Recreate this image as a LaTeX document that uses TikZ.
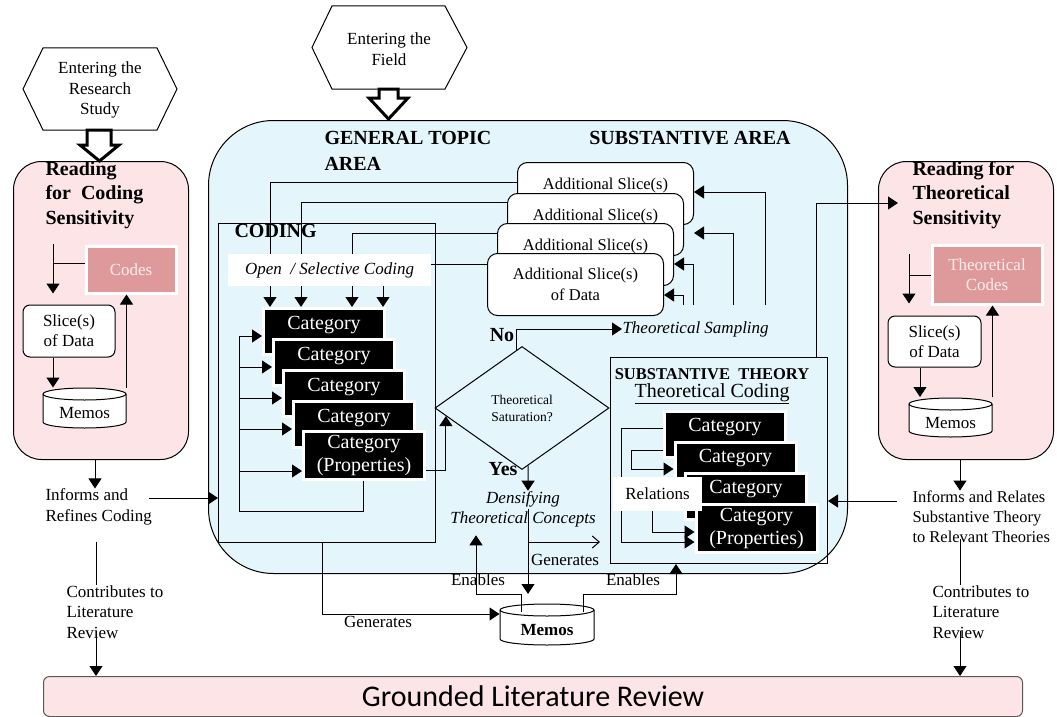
\documentclass[tikz,border=0pt]{standalone}
\usepackage{fontspec}
\setmainfont{Liberation Serif}
\newfontfamily\carlito{Carlito}
\usetikzlibrary{arrows.meta,shapes.geometric,calc}

\definecolor{areablue}{RGB}{228,245,252}
\definecolor{panelpink}{RGB}{253,228,230}
\definecolor{codefill}{RGB}{222,154,155}
\definecolor{codetext}{RGB}{251,236,236}

\newcommand\fsz[2]{\fontsize{#1}{#2}\selectfont}
% database drum between (x1,y1) and (x2,y2)
\newcommand\drum[4]{%
  \pgfmathsetmacro\drumrx{(#3-#1)/2}%
  \filldraw[fill=white] (#1,{#2+6}) -- (#1,{#4-6})
    arc[start angle=180,end angle=360,x radius=\drumrx pt,y radius=6pt]
    -- (#3,{#2+6})
    arc[start angle=0,end angle=180,x radius=\drumrx pt,y radius=6pt] -- cycle;
  \draw (#1,{#2+6}) arc[start angle=180,end angle=360,x radius=\drumrx pt,y radius=6pt];
}

\begin{document}
\begin{tikzpicture}[x=1pt,y=-1pt,line width=1pt,
  arr/.style={-{Triangle[length=10pt,width=13pt]}},
  openarr/.style={-{Straight Barb[length=7pt,width=12pt]}},
  plain/.style={inner sep=0, font=\fsz{17}{20.5}, align=center},
  lefttext/.style={plain, align=left, anchor=west},
  hd/.style={inner sep=0, font=\bfseries\fsz{20}{24.5}, align=left},
  panel/.style={draw, fill=panelpink, rounded corners=28pt, anchor=north west, inner sep=0},
  frame/.style={draw, anchor=north west, inner sep=0},
  codebox/.style={fill=codefill, draw=white, line width=3pt, text=codetext, inner sep=0, align=center, font=\fsz{17}{20}},
  databox/.style={draw, fill=white, rounded corners=7pt, inner sep=0, align=center, font=\fsz{17}{20}},
  slice/.style={draw, fill=white, rounded corners=10pt, minimum width=176pt, minimum height=62pt, inner sep=0, anchor=north west, font=\fsz{16.5}{21}, align=center},
  slicetop/.style={slice, text height=26.5pt, text depth=35.5pt},
  cat/.style={fill=black, draw=white, line width=3pt, text=white, minimum width=121pt, minimum height=46pt, inner sep=0, anchor=north west, font=\fsz{20}{23}, align=center},
  cattop/.style={cat, text height=20.5pt, text depth=25.5pt},
  catst/.style={cat, text height=19.5pt, text depth=26.5pt},
  drumbox/.style={minimum width=#1, minimum height=40pt, inner sep=0},
  blockarrow/.style={line width=3pt, fill=white, line join=miter}
]
\useasboundingbox (0,0) rectangle (1057,717);

% ---------- large areas ----------
\node[draw, fill=areablue, rounded corners=65pt, minimum width=639pt, minimum height=453pt, anchor=north west, inner sep=0] (area) at (208,120) {};
\node[panel, minimum width=175pt, minimum height=298pt] (lp) at (13,161) {};
\node[panel, minimum width=175pt, minimum height=298pt] (rp) at (878,161) {};
\node[draw=black!65, fill=panelpink, rounded corners=6pt, minimum width=979pt, minimum height=40pt, anchor=north west, inner sep=0, font=\carlito\fsz{30}{34}] (glr) at (43,676) {Grounded Literature Review};

% ---------- entry points ----------
\draw[fill=white] (23,89) -- (43,48) -- (157,48) -- (177,89) -- (157,130) -- (43,130) -- cycle;
\node[plain] (hexa) at (100,90) {Entering the\\Research\\Study};
\draw[blockarrow] (87,130) -- (111,130) -- (111,145) -- (119,145) -- (99.5,161) -- (80,145) -- (87,145) -- cycle;

\draw[fill=white] (312,47.5) -- (332,6) -- (445,6) -- (467,47.5) -- (445,89) -- (332,89) -- cycle;
\node[plain] (hexb) at (389,49) {Entering the\\Field};
\draw[blockarrow] (379,89) -- (398,89) -- (398,98) -- (408,98) -- (388.5,119) -- (369,98) -- (379,98) -- cycle;

% ---------- reading for coding sensitivity ----------
\node[hd, anchor=west] (lpt) at (45,195) {Reading\\for~ Coding\\Sensitivity};
\node[codebox, minimum width=90pt, minimum height=47pt] (codes) at (131,269.5) {Codes};
\node[databox, minimum width=92pt, minimum height=52pt] (sl1) at (69,331) {Slice(s)\\of Data};
\drum{43}{388}{126}{428}
\node[drumbox=83pt] (mem1) at (84.5,408) {};
\node[plain] (mem1t) at (84.5,413) {Memos};
\coordinate (lpin) at (53,244);
\draw[arr] (lpin) -- ([yshift=11pt]sl1.north -| lpin);
\draw (codes.west |- 0,263) -- (lpin |- 0,263);
\draw[arr] (sl1.south -| lpin) -- (mem1.north -| lpin);
\draw[arr] (mem1.north east) -- (codes.south -| mem1.north east);

\node[lefttext] (inf1) at (45,507) {Informs and\\Refines Coding};
\node[lefttext] (con1) at (66,612) {Contributes to\\Literature\\Review};
\draw[arr] (lp.south -| 95,0) -- (inf1.north -| 95,0);
\draw ([yshift=-16pt]inf1.south -| 96,0) -- (con1.north -| 96,0);
\draw[arr] ([yshift=8pt]con1.south -| 96,0) -- (glr.north -| 96,0);

% ---------- general topic area ----------
\node[hd, anchor=west, font=\bfseries\fsz{20}{26}] (gta) at (324,151) {GENERAL TOPIC\\AREA};
\node[hd] (sat) at (690,138) {SUBSTANTIVE AREA};

\node[frame, minimum width=217pt, minimum height=319pt] (coding) at (218,223) {};
\node[hd, anchor=west] (codingt) at (234,231) {CODING};
\draw[arr] ([xshift=-3pt]inf1.east |- 0,498) -- (coding.west |- 0,498);

% additional slices of data
\node[slicetop] (s1) at (517,162) {Additional Slice(s)};
\node[slicetop] (s2) at (507,193) {Additional Slice(s)};
\node[slicetop] (s3) at (497,223) {Additional Slice(s)};
\node[slice] (s4) at (487,253) {Additional Slice(s)\\of Data};

% categories of open / selective coding
\node[cattop] (c1) at (262,307) {Category};
\node[cattop] (c2) at (272,338) {Category};
\node[cattop] (c3) at (282,369) {Category};
\node[cattop] (c4) at (292,400) {Category};
\node[cat, minimum height=48pt] (c5) at (302,430) {Category\\(Properties)};

\draw[arr] (s1.west |- 0,182) -| (c1.north -| 270,0);
\draw[arr] (s2.west |- 0,202) -| (c1.north -| 301,0);
\draw[arr] (s3.west |- 0,233) -| (c1.north -| 352,0);
\draw[arr] (s4.west |- 0,264) -| (c1.north -| 383,0);
\node[fill=white, minimum width=203pt, minimum height=32pt, inner sep=0, font=\itshape\fsz{17}{20}] (osc) at (329.5,270) {Open\ \ / Selective Coding};

\draw[arr] (c5.south -| 363,0) |- (239,511) |- (c1.west |- 0,336);
\draw[arr] (239,367) -- (c2.west |- 0,367);
\draw[arr] (239,398) -- (c3.west |- 0,398);
\draw[arr] (239,429) -- (c4.west |- 0,429);
\draw[arr] (239,471) -- (c5.west |- 0,471);

% saturation decision
\node[diamond, draw, minimum width=174pt, minimum height=123pt, aspect=1.41, inner sep=0, font=\fsz{13.5}{17}, align=center] (dia) at (522,408) {Theoretical\\Saturation?};
\draw[arr] (c5.east |- 0,470) -| ($(dia.west)!0.13!(dia.south)$);

\node[hd] (no) at (502,335) {No};
\node[plain, anchor=west, font=\itshape\fsz{17}{20}] (ts) at (622,329) {Theoretical Sampling};
\draw[arr] ($(dia.north)!0.06!(dia.west)$) |- (ts.west);

\draw[arr] ([yshift=16pt]ts.north -| 765,0) |- (s1.east |- 0,192);
\draw[arr] ([yshift=16pt]ts.north -| 733,0) |- ([xshift=10pt]s2.east |- 0,233);
\draw[arr] ([yshift=16pt]ts.north -| 693,0) |- (s3.east |- 0,264);
\draw[arr] ([yshift=16pt]ts.north -| 683,0) |- (s4.east |- 0,295);

\node[hd] (yes) at (503,469) {Yes};
\node[plain, font=\itshape\fsz{17}{20}] (dens) at (523,509) {Densifying\\Theoretical Concepts};
\draw[arr] ($(dia.south)!0.07!(dia.east)$) -- (dens.north -| 528,0);

% ---------- substantive theory ----------
\node[frame, minimum width=217pt, minimum height=206pt] (st) at (610,357) {};
\node[inner sep=0, font=\bfseries\fsz{16.5}{20}] (stt) at (712,374) {SUBSTANTIVE~~THEORY};
\node[inner sep=0, font=\fsz{20}{24}] (tc) at (712,394) {\underline{Theoretical Coding}};

\node[catst] (d1) at (663,410) {Category};
\node[catst] (d2) at (673.5,441) {Category};
\node[catst] (d3) at (684,472) {Category};
% relations run into the last category, which sits 10.5pt right of d3
\draw[arr] (d1.west |- 0,428) -| (621,542) -- ([xshift=10.5pt]d3.west |- 0,542);
\draw[arr] (d1.west |- 0,450) -| (631,469) -- (d2.west |- 0,469);
\draw[arr] (d3.west |- 0,495) -| (652,532) -- ([xshift=10.5pt]d3.west |- 0,532);
\node[cat, minimum height=48pt] (d4) at (694.5,503) {Category\\(Properties)};
\node[fill=white, minimum width=89pt, minimum height=34pt, inner sep=0, font=\fsz{17}{20}] (rel) at (657.5,494) {Relations};

% ---------- memos ----------
\drum{500}{604}{594}{645}
\node[drumbox=94pt] (mem) at (547,624.5) {};
\node[plain, font=\bfseries\fsz{17}{20}] (memt) at (547,630) {Memos};

\draw[arr] (dens.center -| 528,0) -- ([yshift=10pt]mem.north -| 528,0);
\draw[openarr] (528,542) -- ([xshift=-10pt]st.west |- 0,542);
\node[plain] (gen2) at (565,560) {Generates};

\draw[arr] ([yshift=-8pt]mem.north -| 521,0) |- (476,594) -- ([yshift=-8pt]dens.south -| 476,0);
\node[plain] (en1) at (478,580) {Enables};
\draw[arr] ([yshift=-8pt]mem.north -| 583,0) |- (676,594) -- (st.south -| 676,0);
\node[plain] (en2) at (633,580) {Enables};

\draw[arr] (coding.south -| 322,0) |- (mem.west |- 0,614);
\node[plain] (gen1) at (378,622) {Generates};

% ---------- reading for theoretical sensitivity ----------
\node[hd, anchor=west] (rpt) at (912,195) {Reading for\\Theoretical\\Sensitivity};
\node[codebox, minimum width=110pt, minimum height=59pt] (tcodes) at (987,274.5) {Theoretical\\Codes};
\node[databox, minimum width=93pt, minimum height=51pt] (sl2) at (934.5,341.5) {Slice(s)\\of Data};
\drum{909}{398}{992}{437}
\node[drumbox=83pt] (mem2) at (950.5,417.5) {};
\node[plain] (mem2t) at (950.5,423) {Memos};
\coordinate (rpin) at (909,254);
\draw[arr] (rpin) -- ([yshift=12pt]sl2.north -| rpin);
\draw (tcodes.west |- 0,275) -- (rpin |- 0,275);
\draw[arr] (sl2.south -| 920,0) -- (mem2.north -| 920,0);
\draw[arr] (mem2.north east) -- (tcodes.south -| mem2.north east);

\draw[arr] (st.north -| 816,0) |- ([xshift=20pt]rp.west |- 0,203);

\node[lefttext, font=\fsz{16.5}{20}] (inf2) at (912,517) {Informs and Relates\\Substantive Theory\\to Relevant Theories};
\node[lefttext] (con2) at (932,612) {Contributes to\\Literature\\Review};
\draw[arr] (rp.south -| 960,0) -- (inf2.north -| 960,0);
\draw[arr] ([xshift=-15pt]inf2.west |- 0,501) -- (st.east |- 0,501);
\draw ([yshift=4pt]inf2.south -| 960,0) -- (con2.north -| 960,0);
\draw[arr] ([yshift=8pt]con2.south -| 960,0) -- (glr.north -| 960,0);

\end{tikzpicture}
\end{document}
